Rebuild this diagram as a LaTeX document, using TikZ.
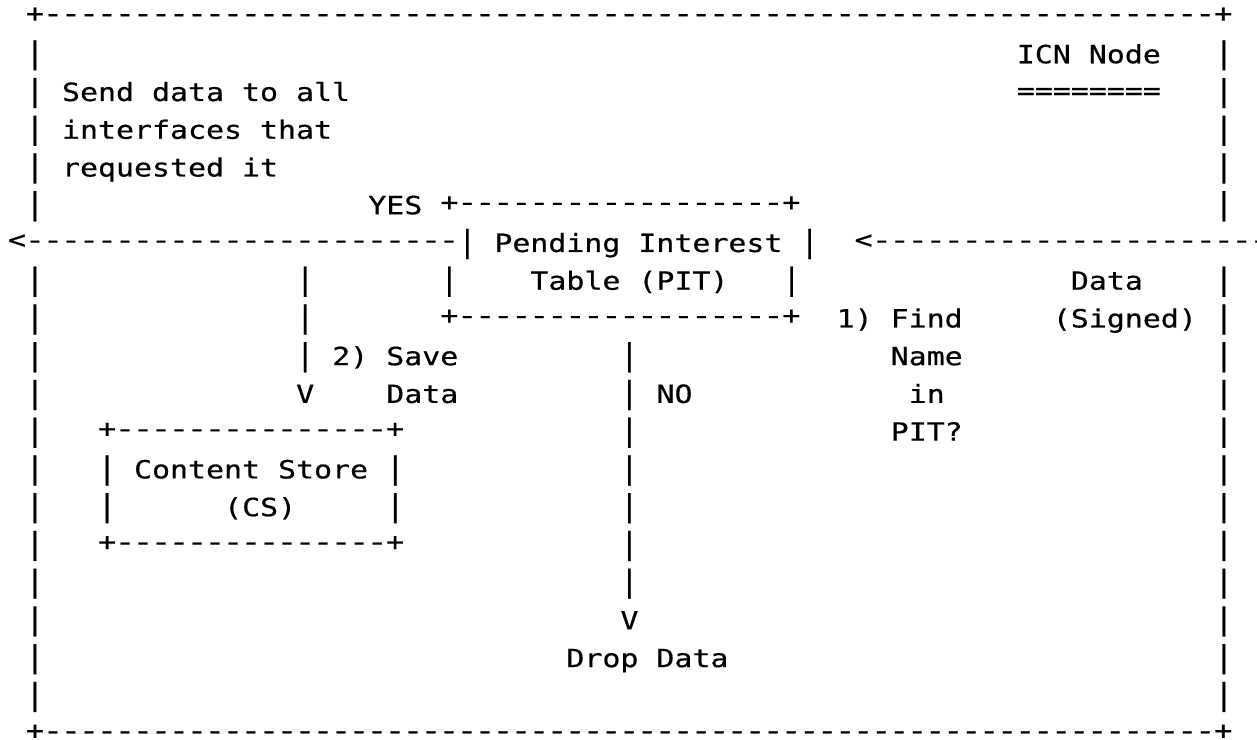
\documentclass[tikz,border=0pt]{standalone}
\usepackage{fontspec}
\usepackage{graphicx}
\setmonofont[FakeStretch=1.193,FakeBold=0.5]{DejaVu Sans Mono}
\newcommand\asciifont{\ttfamily\fontsize{18.8pt}{18.8pt}\selectfont}
% one hyphen, drawn a little longer but keeping its cell width
\newcommand\hy{\rlap{\hspace{-1pt}\scalebox{1.15}[1]{-}}\phantom{-}}
% a run of n hyphens
\newcommand\dashrun[1]{\foreach\k in {1,...,#1}{\hy}}
% a taller vertical bar
\newcommand\vb{\scalebox{1}[1.2]{|}}
\tikzset{
  asc/.style={anchor=base west,inner sep=0pt,outer sep=0pt,font=\asciifont,text=black},
  rule/.style={asc,yshift=2.6pt},
}
\begin{document}
\begin{tikzpicture}[x=13.511pt,y=-28.305pt]
\fill[white] (0,0) rectangle (69.775,19.581);
\useasboundingbox (0,0) rectangle (69.775,19.581);
% one unit = one character cell: (column, line)
\begin{scope}[shift={(0.4425,0.676)}]
  % outer frame of the ICN node
  \node[rule] (topedge) at (1,0) {+\dashrun{65}+};
  \node[rule] (botedge) at (1,19) {+\dashrun{65}+};
  \foreach \r in {1,2,3,4,5,7,8,9,10,11,12,13,14,15,16,17,18}{
    \node[asc] (lb\r) at (1,\r) {\vb};
    \node[asc] (rb\r) at (67,\r) {\vb};
  }
  % title
  \node[asc] (icn) at (56,1) {ICN Node};
  \node[asc,yshift=1.2pt] (icnrule) at (56,2) {========};
  % forwarding note
  \node[asc] (send) at (3,2) {Send data to all};
  \node[asc] (ifaces) at (3,3) {interfaces that};
  \node[asc] (req) at (3,4) {requested it};
  \node[asc] (yes) at (20,5) {YES};
  % PIT box
  \node[rule] (pittop) at (24,5) {+\dashrun{18}+};
  \node[rule] (outarrow) at (0,6) {<\dashrun{24}};
  \node[asc] (pitl) at (25,6) {\vb};
  \node[asc] (pit1) at (27,6) {Pending Interest};
  \node[asc] (pitr) at (44,6) {\vb};
  \node[rule] (inarrow) at (47,6) {<\dashrun{23}};
  \node[asc] (pl7) at (24,7) {\vb};
  \node[asc] (pit2) at (29,7) {Table (PIT)};
  \node[asc] (pr7) at (43,7) {\vb};
  \node[rule] (pitbot) at (24,8) {+\dashrun{18}+};
  % incoming data
  \node[asc] (data) at (59,7) {Data};
  \node[asc] (signed) at (58,8) {(Signed)};
  \node[asc] (find) at (46,8) {1) Find};
  \node[asc] (name) at (49,9) {Name};
  \node[asc] (in) at (50,10) {in};
  \node[asc] (pitq) at (49,11) {PIT?};
  % YES branch down to the content store
  \foreach \r in {7,8,9}{\node[asc] (ys\r) at (16,\r) {\vb};}
  \node[asc] (yv) at (16,10) {V};
  \node[asc] (save) at (18,9) {2) Save};
  \node[asc] (savedata) at (21,10) {Data};
  % content store box
  \node[rule] (cstop) at (5,11) {+\dashrun{15}+};
  \node[asc] (csl12) at (5,12) {\vb};
  \node[asc] (cs1) at (7,12) {Content Store};
  \node[asc] (csr12) at (21,12) {\vb};
  \node[asc] (csl13) at (5,13) {\vb};
  \node[asc] (cs2) at (12,13) {(CS)};
  \node[asc] (csr13) at (21,13) {\vb};
  \node[rule] (csbot) at (5,14) {+\dashrun{15}+};
  % NO branch
  \foreach \r in {9,10,11,12,13,14,15}{\node[asc] (ns\r) at (34,\r) {\vb};}
  \node[asc] (no) at (36,10) {NO};
  \node[asc] (nv) at (34,16) {V};
  \node[asc] (drop) at (31,17) {Drop Data};
\end{scope}
\end{tikzpicture}
\end{document}
